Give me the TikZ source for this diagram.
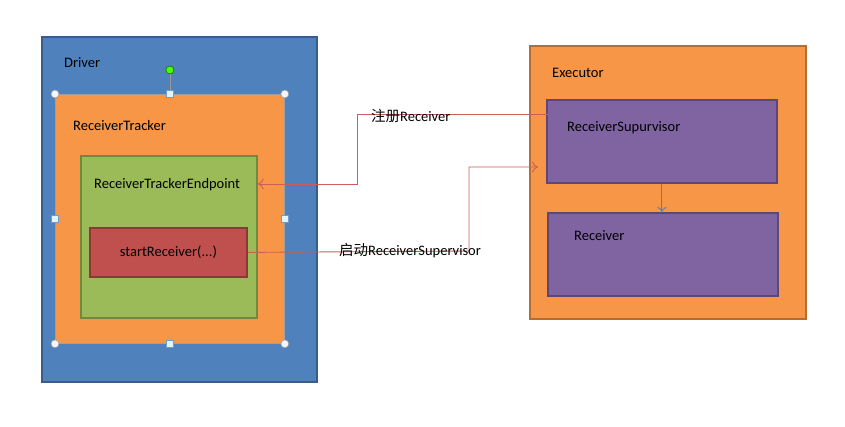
\documentclass[tikz,border=0pt]{standalone}
\usepackage{fontspec}
\setmainfont{Carlito}
\newfontfamily\cjk{Noto Sans CJK SC}
\usepackage{tikz}
\usetikzlibrary{arrows.meta}

\definecolor{drvblue}{HTML}{4F81BD}
\definecolor{drvedge}{HTML}{385D8A}
\definecolor{orng}{HTML}{F79646}
\definecolor{orngedge}{HTML}{B66D31}
\definecolor{grn}{HTML}{9BBB59}
\definecolor{grnedge}{HTML}{71893F}
\definecolor{rd}{HTML}{C0504D}
\definecolor{rdedge}{HTML}{8C3836}
\definecolor{prpl}{HTML}{8064A2}
\definecolor{prpledge}{HTML}{5C4776}
\definecolor{msgred}{HTML}{CD5C5A}

\begin{document}
\begin{tikzpicture}[x=1pt, y=-1pt,
    box/.style={anchor=north west, inner sep=0pt, line width=1.8pt},
    lbl/.style={anchor=west, inner sep=0pt, font=\fontsize{14.5}{16}\selectfont},
    msg/.style={draw=msgred, line width=0.9pt, -{To[length=6pt,width=11pt]}},
    hcirc/.style={circle, inner sep=0pt, minimum size=8pt, fill=blue!4, draw=gray!80, line width=0.6pt},
    hsq/.style={rectangle, inner sep=0pt, minimum size=6.5pt, fill=cyan!12, draw=drvblue!80, line width=0.6pt}]
      \useasboundingbox (0,0) rectangle (845,426);
      % driver side
      \node[box, fill=drvblue, draw=drvedge, minimum width=275pt, minimum height=345pt] (driver) at (41,36) {};
      \node[box, fill=orng, draw=gray!75, line width=0.8pt, minimum width=229pt, minimum height=249pt] (tracker) at (55,94) {};
      \node[box, fill=grn, draw=grnedge, minimum width=176pt, minimum height=162pt] (endpoint) at (80,155) {};
      \node[box, fill=rd, draw=rdedge, minimum width=157pt, minimum height=49pt] (start) at (89,227) {};
      \node[lbl] (drvtxt) at (64,63) {Driver};
      \node[lbl] (trktxt) at (73,126) {ReceiverTracker};
      \node[lbl] (eptxt) at (94,185) {ReceiverTrackerEndpoint};
      \node[lbl, anchor=center] (starttxt) at (start.center) {startReceiver(...)};
      % selection handles
      \node[circle, inner sep=0pt, minimum size=8pt, fill=green!60!lime, draw=green!40!black, line width=0.5pt] (rothdl) at ([yshift=24pt]tracker.north) {};
      \draw[gray!80, line width=0.6pt] (rothdl) -- (tracker.north);
      \foreach \a/\n in {north west/nw, north east/ne, south west/sw, south east/se}
        \node[hcirc] (h\n) at (tracker.\a) {};
      \foreach \a/\n in {north/n, south/s, east/e, west/w}
        \node[hsq] (h\n) at (tracker.\a) {};
      % executor side
      \node[box, fill=orng, draw=orngedge, minimum width=276pt, minimum height=273pt] (executor) at (529,45) {};
      \node[box, fill=prpl, draw=prpledge, minimum width=230pt, minimum height=83pt] (sup) at (546,99) {};
      \node[box, fill=prpl, draw=prpledge, minimum width=230pt, minimum height=83pt] (recv) at (547,212) {};
      \node[lbl] (exetxt) at (552,73) {Executor};
      \node[lbl] (suptxt) at (567,128) {ReceiverSupurvisor};
      \node[lbl] (rcvtxt) at (574,236) {Receiver};
      \draw[draw=drvblue, line width=0.9pt, -{To[length=5pt,width=9pt]}] (sup.south) -- (sup.south |- recv.north);
      % messages
      \draw[msg] ([xshift=2pt,yshift=-15pt]sup.north west) -- (357,114) |- ([yshift=-29pt]endpoint.north east);
      \draw[msg] (start.east) -- (469,251) |- ([xshift=-8pt,yshift=-68pt]sup.north west);
      \node[lbl] (regtxt) at (371,116) {{\cjk 注册}Receiver};
      \node[lbl] (launchtxt) at (339,251) {{\cjk 启动}ReceiverSupervisor};
\end{tikzpicture}
\end{document}
